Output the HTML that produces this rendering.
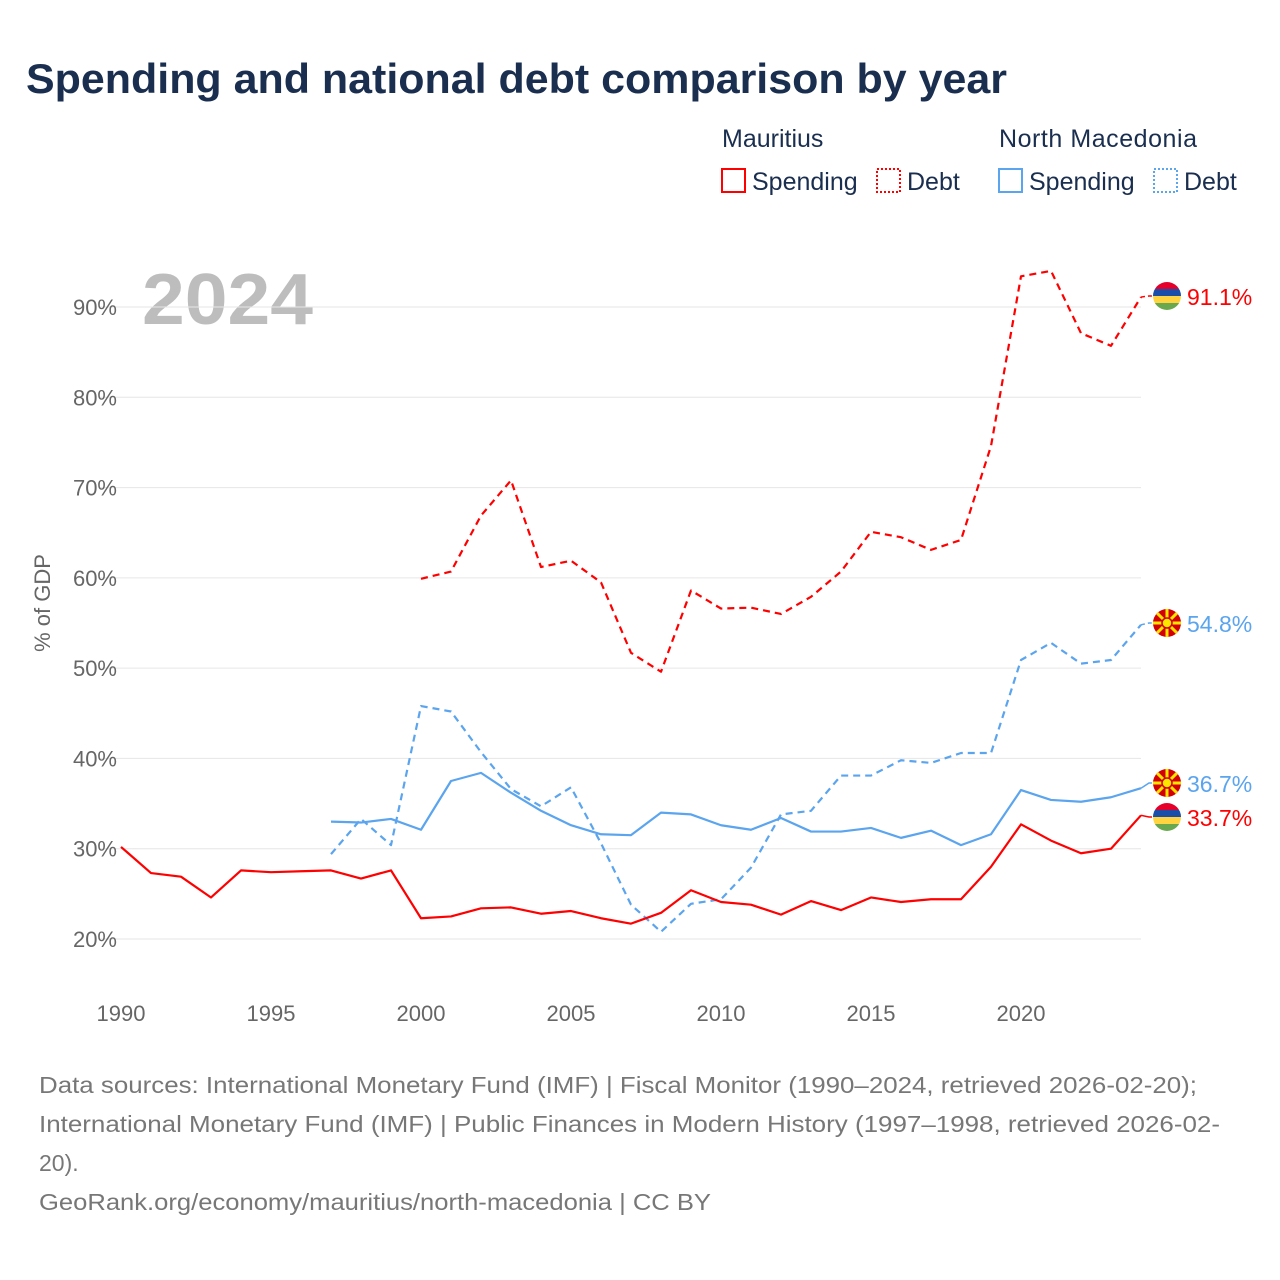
<!DOCTYPE html>
<html><head><meta charset="utf-8"><style>
body{margin:0;background:#fff;font-family:"Liberation Sans",sans-serif;}
#wrap{position:relative;width:1280px;height:1280px;overflow:hidden;}
svg text{font-family:"Liberation Sans",sans-serif;}
</style></head><body>
<div id="wrap">
<svg id="chart" width="1280" height="1280">
<text x="26" y="93" font-size="42" font-weight="bold" fill="#1a2e4f" textLength="981" lengthAdjust="spacingAndGlyphs">Spending and national debt comparison by year</text>
<g font-size="25" fill="#1a2e4f">
<text x="722" y="147">Mauritius</text>
<text x="999" y="147" textLength="198">North Macedonia</text>
<g><rect x="722" y="169" width="23" height="23" fill="none" stroke="#f00" stroke-width="2"/><text x="752" y="190">Spending</text></g>
<g><rect x="877" y="169" width="23" height="23" fill="none" stroke="#f00" stroke-width="2" stroke-dasharray="2,2"/><text x="907" y="190">Debt</text></g>
<g><rect x="999" y="169" width="23" height="23" fill="none" stroke="#5ba4ee" stroke-width="2"/><text x="1029" y="190">Spending</text></g>
<g><rect x="1154" y="169" width="23" height="23" fill="none" stroke="#5ba4ee" stroke-width="2" stroke-dasharray="2,2"/><text x="1184" y="190">Debt</text></g>
</g>
<text x="142" y="324" font-size="72" font-weight="bold" fill="#bdbdbd" textLength="171" lengthAdjust="spacingAndGlyphs">2024</text>
<text transform="translate(50,603) rotate(-90)" text-anchor="middle" font-size="22" fill="#666">% of GDP</text>
<g id="grid"></g><g id="series"></g><g id="ends"></g>
<g font-size="23" fill="#777">
<text x="39" y="1093" textLength="1158" lengthAdjust="spacingAndGlyphs">Data sources: International Monetary Fund (IMF) | Fiscal Monitor (1990–2024, retrieved 2026-02-20);</text>
<text x="39" y="1132" textLength="1181" lengthAdjust="spacingAndGlyphs">International Monetary Fund (IMF) | Public Finances in Modern History (1997–1998, retrieved 2026-02-</text>
<text x="39" y="1171">20).</text>
<text x="39" y="1210" textLength="672" lengthAdjust="spacingAndGlyphs">GeoRank.org/economy/mauritius/north-macedonia | CC BY</text>
</g>
</svg></div>
<script>
const yTicks=[20,30,40,50,60,70,80,90];
const xTicks=[1990,1995,2000,2005,2010,2015,2020];
const muSpendYears=[1990,1991,1992,1993,1994,1995,1996,1997,1998,1999,2000,2001,2002,2003,2004,2005,2006,2007,2008,2009,2010,2011,2012,2013,2014,2015,2016,2017,2018,2019,2020,2021,2022,2023,2024];
const muSpend=[30.2,27.3,26.9,24.6,27.6,27.4,27.5,27.6,26.7,27.6,22.3,22.5,23.4,23.5,22.8,23.1,22.3,21.7,22.9,25.4,24.1,23.8,22.7,24.2,23.2,24.6,24.1,24.4,24.4,28.0,32.7,30.9,29.5,30.0,33.7];
const muDebtYears=[2000,2001,2002,2003,2004,2005,2006,2007,2008,2009,2010,2011,2012,2013,2014,2015,2016,2017,2018,2019,2020,2021,2022,2023,2024];
const muDebt=[59.9,60.7,66.9,70.8,61.2,61.9,59.5,51.7,49.6,58.6,56.6,56.7,56.0,57.9,60.7,65.1,64.5,63.1,64.2,74.6,93.4,94.0,87.1,85.7,91.1];
const nmYears=[1997,1998,1999,2000,2001,2002,2003,2004,2005,2006,2007,2008,2009,2010,2011,2012,2013,2014,2015,2016,2017,2018,2019,2020,2021,2022,2023,2024];
const nmSpend=[33.0,32.9,33.3,32.1,37.5,38.4,36.2,34.2,32.6,31.6,31.5,34.0,33.8,32.6,32.1,33.4,31.9,31.9,32.3,31.2,32.0,30.4,31.6,36.5,35.4,35.2,35.7,36.7];
const nmDebt=[29.4,33.3,30.4,45.8,45.2,40.7,36.6,34.7,36.8,30.6,23.8,20.8,23.9,24.4,27.9,33.8,34.2,38.1,38.1,39.8,39.5,40.6,40.6,50.9,52.8,50.5,50.9,54.8];
const NS='http://www.w3.org/2000/svg';
const xs=y=>121+(y-1990)*30, ys=v=>939-(v-20)*(632/70);
function mk(t,a,p){const e=document.createElementNS(NS,t);for(const k in a)e.setAttribute(k,a[k]);p.appendChild(e);return e;}
const grid=document.getElementById('grid');
yTicks.forEach(v=>{
 const l=mk('line',{x1:100,x2:1141,y1:ys(v),y2:ys(v),stroke:'#e6e6e6','stroke-width':1},grid);
 
 
 const t=mk('text',{x:117,y:ys(v)+8,'text-anchor':'end','font-size':22,fill:'#666'},grid);t.textContent=v+'%';
 
 
});
xTicks.forEach(y=>{
 const t=mk('text',{x:xs(y),y:1021,'text-anchor':'middle','font-size':22,fill:'#666'},grid);t.textContent=y;
 
 
});
const S=document.getElementById('series');
function line(yrs,vals,col,dash,name){
 const p=mk('polyline',{points:yrs.map((y,i)=>xs(y)+','+ys(vals[i])).join(' '),fill:'none',stroke:col,'stroke-width':2.2,'stroke-dasharray':dash,'stroke-linejoin':'round'},S);
 
 
}
line(muDebtYears,muDebt,'#f00','7,5','mauritius-debt-line');
line(nmYears,nmDebt,'#5ba4ee','7,5','nm-debt-line');
line(nmYears,nmSpend,'#5ba4ee','','nm-spending-line');
line(muSpendYears,muSpend,'#f00','','mauritius-spending-line');
const E=document.getElementById('ends');
function flag(cx,cy,type,g){
 const id='c'+Math.round(cy);
 const cp=mk('clipPath',{id:id},g);mk('circle',{cx:cx,cy:cy,r:14},cp);
 const f=mk('g',{'clip-path':'url(#'+id+')'},g);
 if(type==='mu'){['#e4002b','#1a4ea8','#ffd440','#6aa84f'].forEach((c,i)=>mk('rect',{x:cx-14,y:cy-14+i*7,width:28,height:7,fill:c},f));}
 else{mk('rect',{x:cx-14,y:cy-14,width:28,height:28,fill:'#d20000'},f);
  for(let a=0;a<8;a++){const an=a*Math.PI/4;mk('line',{x1:cx,y1:cy,x2:cx+16*Math.cos(an),y2:cy+16*Math.sin(an),stroke:'#ffe600','stroke-width':3},f);}
  mk('circle',{cx:cx,cy:cy,r:5,fill:'#ffe600',stroke:'#d20000','stroke-width':1.5},f);}
}
function end(v,labelY,col,type,dash,name){
 const g=mk('g',{},E);
 
 
 mk('polyline',{points:xs(2024)+','+ys(v)+' '+(xs(2024)+8)+','+labelY+' 1152,'+labelY,fill:'none',stroke:col,'stroke-width':1.5,'stroke-dasharray':dash},g);
 flag(1167,labelY,type,g);
 const t=mk('text',{x:1187,y:labelY+9,'font-size':23,fill:col},g);t.textContent=v.toFixed(1)+'%';
}
end(muDebt[muDebt.length-1],296,'#f00','mu','4,3','end-label-mauritius-debt');
end(nmDebt[nmDebt.length-1],623,'#5ba4ee','nm','4,3','end-label-nm-debt');
end(nmSpend[nmSpend.length-1],783,'#5ba4ee','nm','','end-label-nm-spending');
end(muSpend[muSpend.length-1],817,'#f00','mu','','end-label-mauritius-spending');
</script>
</body></html>
